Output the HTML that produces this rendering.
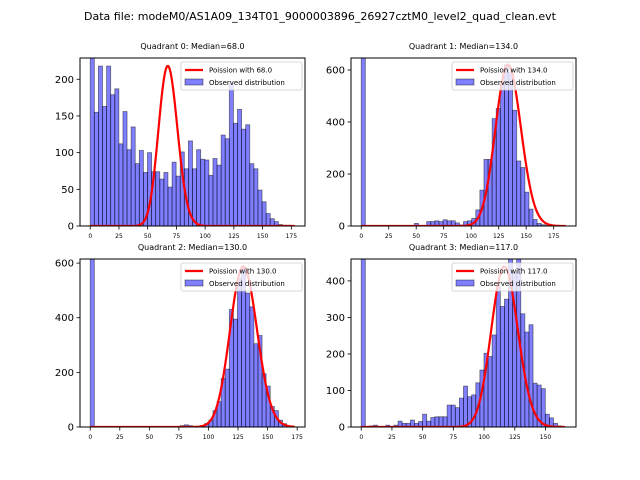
<!DOCTYPE html>
<html><head><meta charset="utf-8"><style>
body{margin:0;background:#fff}
svg{display:block;font-family:"DejaVu Sans","Liberation Sans",sans-serif}
</style></head><body>
<svg id="fig" width="640" height="480" viewBox="0 0 640 480">
<text x="320" y="20" text-anchor="middle" font-size="11">Data file: modeM0/AS1A09_134T01_9000003896_26927cztM0_level2_quad_clean.evt</text>
</svg>
<script>
// Quadrant data (counts per bin, 50 bins each)
const q0Counts = [260,155,218,163,218,179,187,112,156,104,135,85,103,73,100,74,74,64,73,53,87,68,101,78,116,78,104,91,90,69,92,83,124,119,195,140,159,132,138,85,78,49,33,17,10,6,2,1,1,0];
const q1Counts = [700,0,0,0,0,0,0,0,0,0,0,0,0,10,0,0,17,17,20,17,24,20,20,12,4,17,20,29,62,138,256,256,413,452,555,620,590,445,250,225,130,65,25,10,5,2,0,0,0,0];
const q2Counts = [700,0,0,0,0,0,0,0,0,0,0,0,0,0,0,0,0,0,0,0,0,0,5,8,5,0,0,5,13,25,60,93,178,212,430,395,545,580,490,440,305,335,195,150,75,60,25,12,3,0];
const q3Counts = [520,0,3,5,0,0,5,0,5,16,10,10,19,10,15,35,16,26,28,28,28,60,60,53,79,112,83,88,121,156,202,193,252,385,330,350,460,425,460,310,260,280,120,115,105,35,25,10,3,0];
const dataMax = [178,186,173,166.5];
const yMax = [229,646,615,460];
const medians = [68.0,134.0,130.0,117.0];
const curvePeaks = [218,620,587,439];
const xTicks = [[0,25,50,75,100,125,150,175],[0,25,50,75,100,125,150,175],[0,25,50,75,100,125,150,175],[0,25,50,75,100,125,150]];
const yTicks = [[0,50,100,150,200],[0,200,400,600],[0,200,400,600],[0,100,200,300,400]];
const allCounts = [q0Counts,q1Counts,q2Counts,q3Counts];
const boxes = [[80,58],[351,58],[80,259],[351,259]];
const W=225,H=168;
const NS="http://www.w3.org/2000/svg";
const fig=document.getElementById('fig');
function mk(tag,attrs,parent){const e=document.createElementNS(NS,tag);for(const k in attrs)e.setAttribute(k,attrs[k]);(parent||fig).appendChild(e);return e;}
function lgam(x){
 if(x<7){let p=1;while(x<7){p*=x;x++;}return lgam(x)-Math.log(p);}
 return (x-0.5)*Math.log(x)-x+0.5*Math.log(2*Math.PI)+1/(12*x)-1/(360*x*x*x);}
function logpmf(k,l){return k*Math.log(l)-l-lgam(k+1);}
for(let q=0;q<4;q++){
 const [L,T]=boxes[q];
 const X=dataMax[q];const x0=-0.05*X,x1=1.05*X;
 const sx=v=>L+(v-x0)/(x1-x0)*W;
 const sy=v=>T+H-Math.min(v,yMax[q])/yMax[q]*H;
 const g=mk('g',{});
 
 
 const clipId='c'+q;
 const cp=mk('clipPath',{id:clipId},g);mk('rect',{x:L,y:T,width:W,height:H},cp);
 const bars=mk('g',{'clip-path':'url(#'+clipId+')'},g);
 const counts=allCounts[q];const bw=X/counts.length;
 counts.forEach((c,i)=>{if(c<=0)return;
  const r=mk('rect',{x:sx(i*bw),y:sy(c),width:sx(bw)-sx(0),height:sy(0)-sy(c),fill:'rgba(0,0,255,0.5)',stroke:'rgba(0,0,0,0.5)','stroke-width':0.8},bars);
  
  
 });
 const lam=medians[q];const mode=Math.floor(lam);const lm=logpmf(mode,lam);
 let d='';
 for(let k=0;k<=X;k+=1){const v=curvePeaks[q]*Math.exp(logpmf(k,lam)-lm);d+=(k?'L':'M')+sx(k).toFixed(2)+','+sy(v).toFixed(2);}
 const p=mk('path',{d:d,fill:'none',stroke:'#ff0000','stroke-width':2.2,'clip-path':'url(#'+clipId+')'},g);
 
 
 mk('rect',{x:L,y:T,width:W,height:H,fill:'none',stroke:'#000','stroke-width':1},g);
 xTicks[q].forEach(t=>{mk('line',{x1:sx(t),x2:sx(t),y1:T+H,y2:T+H+3.5,stroke:'#000','stroke-width':0.8},g);
  const tx=mk('text',{x:sx(t),y:T+H+12,'font-size':6,'text-anchor':'middle'},g);tx.textContent=t;
  
  });
 yTicks[q].forEach(t=>{mk('line',{x1:L-3.5,x2:L,y1:sy(t),y2:sy(t),stroke:'#000','stroke-width':0.8},g);
  const tx=mk('text',{x:L-6,y:sy(t)+3.5,'font-size':10,'text-anchor':'end'},g);tx.textContent=t;
  
  });
 const ti=mk('text',{x:L+W/2,y:T-9,'font-size':8,'text-anchor':'middle'},g);
 ti.textContent='Quadrant '+q+': Median='+medians[q].toFixed(1);
 
 
 const lg=mk('g',{},g);
 
 
 const lx=L+W-124,ly=T+4;
 mk('rect',{x:lx,y:ly,width:121,height:28,rx:2,fill:'#fff','fill-opacity':0.8,stroke:'#ccc','stroke-width':0.8},lg);
 mk('line',{x1:lx+4,x2:lx+22,y1:ly+8,y2:ly+8,stroke:'#ff0000','stroke-width':2.2},lg);
 const t1=mk('text',{x:lx+28,y:ly+10.5,'font-size':7},lg);t1.textContent='Poission with '+medians[q].toFixed(1);
 
 
 mk('rect',{x:lx+4,y:ly+17,width:18,height:6,fill:'rgba(0,0,255,0.5)',stroke:'rgba(0,0,0,0.5)','stroke-width':0.8},lg);
 const t2=mk('text',{x:lx+28,y:ly+23,'font-size':7},lg);t2.textContent='Observed distribution';
 
 
}
</script>
</body></html>
